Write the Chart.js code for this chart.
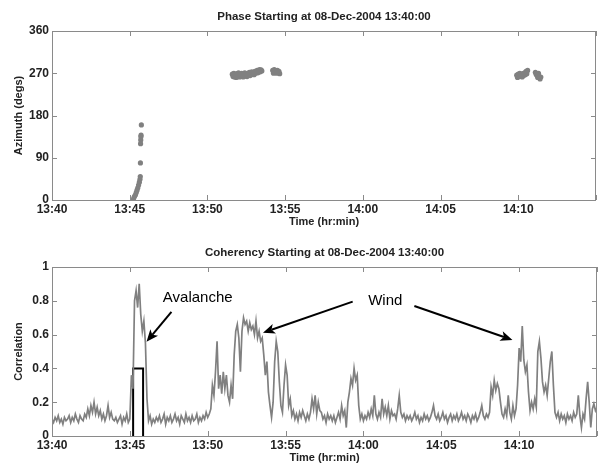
<!DOCTYPE html>
<html>
<head>
<meta charset="utf-8">
<script src="https://cdn.jsdelivr.net/npm/chart.js@4"></script>
<style>
  body { margin: 0; background: #fff; }
  #wrap { position: relative; width: 600px; height: 464px; }
  canvas { position: absolute; left: 0; }
</style>
</head>
<body>
<div id="wrap">
  <canvas id="phase" width="600" height="232" style="top:0"></canvas>
  <canvas id="coh" width="600" height="232" style="top:232px"></canvas>
</div>
<script>
// time axis: minutes after 13:40
const xTickLabels = ['13:40', '13:45', '13:50', '13:55', '14:00', '14:05', '14:10'];
const azTickLabels = ['0', '90', '180', '270', '360'];
const corrTickLabels = ['0', '0.2', '0.4', '0.6', '0.8', '1'];

// phase (azimuth) detections
const phaseTime = [
  5.21, 5.26, 5.31, 5.37, 5.42, 5.47, 5.52, 5.57, 5.62, 5.66, 5.68, 5.69, 5.70, 5.71, 5.72, 5.73, 5.75,
  11.60, 11.65, 11.70, 11.75, 11.80, 11.85, 11.90, 11.95, 12.00, 12.05, 12.10, 12.15, 12.20, 12.25, 12.30, 12.35,
  12.40, 12.45, 12.50, 12.55, 12.60, 12.65, 12.70, 12.75, 12.80, 12.85, 12.90, 12.95, 13.00, 13.05, 13.10, 13.15,
  13.20, 13.25, 13.30, 13.35, 13.40, 13.45, 13.50,
  14.20, 14.25, 14.30, 14.35, 14.40, 14.45, 14.50, 14.55, 14.60, 14.65,
  29.90, 29.95, 30.00, 30.05, 30.10, 30.15, 30.20, 30.25, 30.30, 30.35, 30.40, 30.45, 30.50, 30.55, 30.60,
  31.10, 31.15, 31.20, 31.25, 31.30, 31.35, 31.40, 31.45
];
const phaseAz = [
  0, 4, 8, 11, 16, 21, 26, 32, 38, 44, 50, 79, 120, 128, 135, 138, 160,
  268, 263, 270, 262, 267, 261, 269, 264, 271, 262, 268, 263, 270, 265, 262, 269,
  271, 264, 268, 263, 270, 266, 272, 265, 269, 273, 268, 271, 267, 274, 270, 272,
  276, 271, 274, 278, 273, 277, 275,
  276, 270, 278, 272, 275, 270, 276, 273, 274, 269,
  266, 261, 268, 263, 270, 264, 267, 262, 269, 265, 271, 267, 274, 269, 276,
  272, 268, 266, 261, 270, 263, 258, 262
];

// coherency, one value every 0.1 min from 13:40:00
const cohStep = 0.1;
const cohValues = [
  0.10, 0.08, 0.11, 0.09, 0.12, 0.08, 0.10, 0.07, 0.11, 0.09,
  0.10, 0.12, 0.08, 0.11, 0.09, 0.13, 0.10, 0.08, 0.12, 0.10,
  0.09, 0.13, 0.11, 0.16, 0.12, 0.18, 0.14, 0.20, 0.13, 0.17,
  0.12, 0.15, 0.10, 0.13, 0.09, 0.12, 0.18, 0.11, 0.14, 0.10,
  0.09, 0.11, 0.08, 0.10, 0.12, 0.07, 0.11, 0.09, 0.13, 0.08,
  0.10, 0.36, 0.28, 0.80, 0.86, 0.76, 0.90, 0.72, 0.62, 0.68,
  0.55, 0.22, 0.09, 0.12, 0.07, 0.10, 0.08, 0.11, 0.09, 0.12,
  0.08, 0.10, 0.13, 0.07, 0.11, 0.09, 0.12, 0.08, 0.10, 0.13,
  0.09, 0.11, 0.07, 0.12, 0.10, 0.08, 0.13, 0.09, 0.11, 0.08,
  0.12, 0.09, 0.10, 0.13, 0.08, 0.11, 0.09, 0.12, 0.10, 0.14,
  0.11, 0.13, 0.16, 0.30, 0.24, 0.38, 0.56, 0.28, 0.36, 0.25,
  0.38, 0.28, 0.36, 0.24, 0.20, 0.30, 0.22, 0.48, 0.62, 0.66,
  0.58, 0.38, 0.62, 0.70, 0.66, 0.68, 0.62, 0.67, 0.63, 0.65,
  0.60, 0.68, 0.58, 0.62, 0.56, 0.58, 0.48, 0.36, 0.44, 0.26,
  0.18, 0.11, 0.20, 0.44, 0.56, 0.50, 0.32, 0.18, 0.14, 0.30,
  0.42, 0.36, 0.18, 0.22, 0.12, 0.15, 0.10, 0.13, 0.09, 0.14,
  0.11, 0.15, 0.12, 0.09, 0.13, 0.10, 0.14, 0.22, 0.16, 0.24,
  0.13, 0.20, 0.15, 0.14, 0.10, 0.12, 0.08, 0.13, 0.10, 0.12,
  0.09, 0.12, 0.08, 0.11, 0.14, 0.10, 0.18, 0.12, 0.15, 0.05,
  0.20, 0.26, 0.34, 0.30, 0.40, 0.33, 0.36, 0.18, 0.10, 0.13,
  0.09, 0.12, 0.10, 0.14, 0.11, 0.16, 0.12, 0.24, 0.13, 0.10,
  0.14, 0.11, 0.22, 0.13, 0.17, 0.12, 0.18, 0.10, 0.15, 0.12,
  0.13, 0.10, 0.16, 0.24, 0.14, 0.11, 0.13, 0.09, 0.12, 0.10,
  0.12, 0.09, 0.11, 0.14, 0.10, 0.12, 0.08, 0.11, 0.09, 0.13,
  0.10, 0.12, 0.09, 0.11, 0.14, 0.18, 0.12, 0.10, 0.13, 0.09,
  0.11, 0.14, 0.10, 0.12, 0.08, 0.11, 0.13, 0.09, 0.12, 0.10,
  0.13, 0.09, 0.11, 0.14, 0.10, 0.12, 0.09, 0.13, 0.11, 0.08,
  0.12, 0.10, 0.13, 0.09, 0.11, 0.14, 0.18, 0.12, 0.10, 0.13,
  0.11, 0.14, 0.29, 0.24, 0.33, 0.27, 0.31, 0.28, 0.20, 0.13,
  0.11, 0.16, 0.12, 0.24, 0.14, 0.10, 0.18, 0.12, 0.16, 0.30,
  0.52, 0.44, 0.65, 0.45, 0.38, 0.42, 0.26, 0.15, 0.20, 0.16,
  0.22, 0.17, 0.50, 0.56, 0.46, 0.32, 0.26, 0.30, 0.24, 0.34,
  0.44, 0.50, 0.30, 0.14, 0.11, 0.14, 0.09, 0.13, 0.10, 0.12,
  0.08, 0.13, 0.10, 0.12, 0.09, 0.14, 0.11, 0.13, 0.24, 0.12,
  0.05, 0.13, 0.10, 0.22, 0.32, 0.20, 0.05, 0.16, 0.19, 0.15,
  0.17
];

// avalanche detection window (black box)
const boxTime = [5.21, 5.21, 5.85, 5.85];
const boxLevel = [0, 0.4, 0.4, 0];

// annotations in data units
const notes = [
  { text: 'Avalanche', x: 9.36, y: 0.815 },
  { text: 'Wind', x: 21.4, y: 0.80 }
];
const arrows = [
  { from: [7.67, 0.735], to: [6.07, 0.558] },
  { from: [19.31, 0.795], to: [13.55, 0.611] },
  { from: [23.27, 0.769], to: [29.57, 0.568] }
];

const FONT = '"Liberation Sans", Arial, sans-serif';
const frameColor = '#8a8a8a';
const textColor = '#222';
const dataGray = '#808080';

// frame, inward ticks, titles and axis labels like the MATLAB figure
function decorPlugin(title, yLabel) {
  return {
    id: 'decor',
    afterDatasetsDraw(chart) {
      const { ctx, chartArea: a, scales: { x, y } } = chart;
      ctx.save();
      ctx.strokeStyle = frameColor;
      ctx.lineWidth = 1;
      ctx.strokeRect(a.left + 0.5, a.top + 0.5, a.right - a.left - 1, a.bottom - a.top);
      ctx.beginPath();
      x.ticks.forEach(t => {
        const px = Math.round(x.getPixelForValue(t.value)) + 0.5;
        ctx.moveTo(px, a.bottom); ctx.lineTo(px, a.bottom - 5);
        ctx.moveTo(px, a.top); ctx.lineTo(px, a.top + 5);
      });
      y.ticks.forEach(t => {
        const py = Math.round(y.getPixelForValue(t.value)) + 0.5;
        ctx.moveTo(a.left, py); ctx.lineTo(a.left + 5, py);
        ctx.moveTo(a.right, py); ctx.lineTo(a.right - 5, py);
      });
      ctx.stroke();

      ctx.fillStyle = textColor;
      ctx.textAlign = 'center';
      ctx.textBaseline = 'middle';
      const cx = (a.left + a.right) / 2;
      ctx.font = 'bold 11.5px ' + FONT;
      ctx.fillText(title, cx, a.top - 14);
      ctx.font = 'bold 11px ' + FONT;
      ctx.fillText('Time (hr:min)', cx, a.bottom + 22);
      ctx.translate(19, (a.top + a.bottom) / 2);
      ctx.rotate(-Math.PI / 2);
      ctx.fillText(yLabel, 0, 0);
      ctx.restore();
    }
  };
}

const annotatePlugin = {
  id: 'annotate',
  afterDraw(chart) {
    const { ctx, scales: { x, y } } = chart;
    ctx.save();
    ctx.fillStyle = '#000';
    ctx.strokeStyle = '#000';
    ctx.font = '15px ' + FONT;
    ctx.textAlign = 'center';
    ctx.textBaseline = 'middle';
    notes.forEach(n => ctx.fillText(n.text, x.getPixelForValue(n.x), y.getPixelForValue(n.y)));
    arrows.forEach(ar => {
      const x0 = x.getPixelForValue(ar.from[0]), y0 = y.getPixelForValue(ar.from[1]);
      const x1 = x.getPixelForValue(ar.to[0]), y1 = y.getPixelForValue(ar.to[1]);
      const ang = Math.atan2(y1 - y0, x1 - x0);
      const hl = 12, hw = 5;
      const bx = x1 - hl * Math.cos(ang), by = y1 - hl * Math.sin(ang);
      ctx.lineWidth = 2;
      ctx.beginPath();
      ctx.moveTo(x0, y0);
      ctx.lineTo(bx + 3 * Math.cos(ang), by + 3 * Math.sin(ang));
      ctx.stroke();
      ctx.beginPath();
      ctx.moveTo(x1, y1);
      ctx.lineTo(bx + hw * Math.sin(ang), by - hw * Math.cos(ang));
      ctx.lineTo(bx + 3 * Math.cos(ang), by + 3 * Math.sin(ang));
      ctx.lineTo(bx - hw * Math.sin(ang), by + hw * Math.cos(ang));
      ctx.closePath();
      ctx.fill();
    });
    ctx.restore();
  }
};

function timeAxis(axisHeight) {
  return {
    type: 'linear',
    min: 0,
    max: 35,
    grid: { display: false, drawTicks: false },
    border: { display: false },
    ticks: {
      stepSize: 5,
      autoSkip: false,
      maxRotation: 0,
      padding: 2,
      color: textColor,
      font: { family: FONT, size: 12, weight: 'bold' },
      callback: (v, i) => xTickLabels[i] || ''
    },
    afterFit: s => { s.height = axisHeight; }
  };
}

function valueAxis(max, step, labels) {
  return {
    type: 'linear',
    min: 0,
    max: max,
    grid: { display: false, drawTicks: false },
    border: { display: false },
    ticks: {
      stepSize: step,
      padding: 3,
      color: textColor,
      font: { family: FONT, size: 12, weight: 'bold' },
      callback: (v, i) => labels[i]
    },
    afterFit: s => { s.width = 52; }
  };
}

// top: phase
new Chart(document.getElementById('phase'), {
  type: 'scatter',
  data: {
    datasets: [{
      data: phaseTime.map((t, i) => ({ x: t, y: phaseAz[i] })),
      pointRadius: 2.6,
      pointBackgroundColor: dataGray,
      pointBorderWidth: 0,
      showLine: false
    }]
  },
  options: {
    responsive: false,
    animation: false,
    layout: { padding: { top: 31, right: 3, left: 0, bottom: 0 } },
    plugins: { legend: { display: false }, tooltip: { enabled: false } },
    scales: {
      x: timeAxis(32),
      y: valueAxis(360, 90, azTickLabels)
    }
  },
  plugins: [decorPlugin('Phase Starting at 08-Dec-2004 13:40:00', 'Azimuth (degs)')]
});

// bottom: coherency
new Chart(document.getElementById('coh'), {
  type: 'line',
  data: {
    datasets: [{
      data: cohValues.map((v, i) => ({ x: i * cohStep, y: v })),
      borderColor: dataGray,
      borderWidth: 1.7,
      pointRadius: 0,
      tension: 0
    }, {
      data: boxTime.map((t, i) => ({ x: t, y: boxLevel[i] })),
      borderColor: '#000',
      borderWidth: 2,
      pointRadius: 0,
      tension: 0
    }]
  },
  options: {
    responsive: false,
    animation: false,
    layout: { padding: { top: 35, right: 3, left: 0, bottom: 0 } },
    plugins: { legend: { display: false }, tooltip: { enabled: false } },
    scales: {
      x: timeAxis(28),
      y: valueAxis(1, 0.2, corrTickLabels)
    }
  },
  plugins: [decorPlugin('Coherency Starting at 08-Dec-2004 13:40:00', 'Correlation'), annotatePlugin]
});
</script>
</body>
</html>
